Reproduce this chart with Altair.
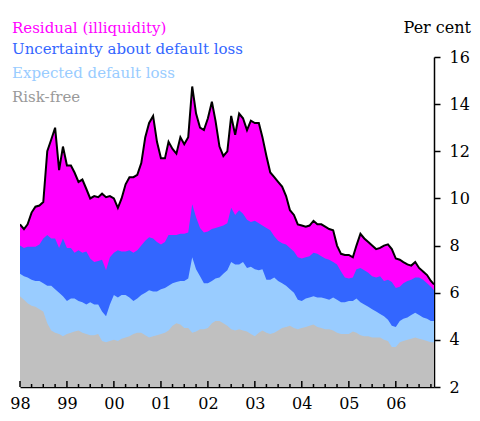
import altair as alt
import pandas as pd

# ---- data (levels, per cent) ----
months = list(pd.date_range("1998-01-01", periods=106, freq="MS")) + [pd.Timestamp("2006-10-25")]

residual_top = [
    8.9, 8.7, 8.9, 9.4, 9.65, 9.7, 9.85, 12.0, 12.5, 13.0,
    11.2, 12.2, 11.4, 11.4, 11.1, 10.7, 10.8, 10.4, 10.0, 10.1,
    10.05, 10.2, 10.05, 10.1, 10.0, 9.6, 10.0, 10.6, 10.9, 10.9,
    11.0, 11.5, 12.6, 13.2, 13.5, 12.4, 11.7, 11.7, 12.4, 12.1,
    11.9, 12.6, 12.3, 12.6, 14.75, 13.6, 13.0, 12.9, 13.4, 14.1,
    13.3, 12.2, 11.8, 12.0, 13.5, 12.7, 13.6, 13.4, 12.9, 13.3,
    13.2, 13.2, 12.6, 11.8, 11.1, 10.9, 10.7, 10.5, 10.1, 9.5,
    9.3, 8.9, 8.85, 8.8, 8.85, 9.05, 8.9, 8.9, 8.8, 8.7,
    8.65, 8.0, 7.65, 7.6, 7.6, 7.5, 8.0, 8.5, 8.3, 8.15,
    8.0, 7.85, 7.9, 8.0, 8.05, 7.85, 7.45, 7.4, 7.3, 7.2,
    7.15, 7.3, 7.05, 6.9, 6.75, 6.5, 6.35,
]
uncertainty_top = [
    8.0, 7.9, 7.95, 7.95, 7.95, 8.05, 8.3, 8.45, 8.3, 8.3,
    7.9, 8.3, 7.9, 7.9, 7.7, 7.8, 7.7, 7.75, 7.45, 7.3,
    7.35, 7.4, 6.95, 7.5, 7.7, 7.8, 7.75, 7.75, 7.8, 7.7,
    7.8, 8.0, 8.2, 8.35, 8.3, 8.15, 8.05, 8.15, 8.45, 8.45,
    8.45, 8.5, 8.5, 8.55, 9.75, 9.2, 8.75, 8.55, 8.6, 8.7,
    8.75, 8.8, 8.85, 8.95, 9.6, 9.3, 9.5, 9.35, 9.1, 9.0,
    9.05, 8.95, 8.85, 8.75, 8.65, 8.4, 8.2, 8.1, 8.05, 7.9,
    7.75, 7.5, 7.45, 7.5, 7.55, 7.7, 7.65, 7.55, 7.45, 7.4,
    7.3, 7.2, 6.9, 6.65, 6.6, 6.65, 7.0, 7.05, 6.95, 6.85,
    6.7, 6.65, 6.7, 6.5, 6.55, 6.45, 6.2, 6.25, 6.4, 6.5,
    6.55, 6.65, 6.65, 6.55, 6.4, 6.25, 6.1,
]
expected_loss_top = [
    6.8, 6.7, 6.65, 6.55, 6.5, 6.5, 6.4, 6.3, 6.3, 6.15,
    6.0, 5.85, 5.65, 5.75, 5.75, 5.65, 5.6, 5.5, 5.6, 5.5,
    5.5, 5.2, 5.0, 5.5, 5.9, 5.8, 5.9, 5.9, 5.8, 5.65,
    5.75, 5.9, 6.0, 6.1, 6.05, 6.05, 6.15, 6.2, 6.3, 6.4,
    6.45, 6.5, 6.5, 6.6, 7.5, 7.0, 6.7, 6.4, 6.4, 6.5,
    6.6, 6.65, 6.8, 6.95, 7.3, 7.2, 7.2, 7.3, 7.05, 7.1,
    7.0, 6.95, 7.0, 6.55, 6.55, 6.65, 6.5, 6.4, 6.3, 6.15,
    6.0, 5.7, 5.65, 5.75, 5.8, 5.85, 5.8, 5.8, 5.75, 5.7,
    5.8, 5.7, 5.6, 5.6, 5.65, 5.65, 5.75, 5.6, 5.5, 5.4,
    5.3, 5.2, 5.1, 5.0, 4.85, 4.6, 4.55, 4.8, 4.9, 4.95,
    5.05, 5.15, 5.05, 4.95, 4.9, 4.8, 4.8,
]
risk_free = [
    5.85, 5.7, 5.55, 5.45, 5.4, 5.3, 5.2, 4.7, 4.4, 4.3,
    4.25, 4.15, 4.25, 4.3, 4.35, 4.4, 4.3, 4.25, 4.2, 4.2,
    4.25, 3.95, 3.9, 3.95, 4.0, 3.95, 4.05, 4.1, 4.15, 4.25,
    4.3, 4.3, 4.2, 4.1, 4.15, 4.2, 4.25, 4.3, 4.4, 4.6,
    4.7, 4.65, 4.5, 4.5, 4.3, 4.35, 4.45, 4.45, 4.5, 4.7,
    4.8, 4.8, 4.7, 4.6, 4.45, 4.4, 4.45, 4.4, 4.35, 4.25,
    4.15, 4.3, 4.4, 4.3, 4.25, 4.3, 4.4, 4.5, 4.55, 4.6,
    4.5, 4.45, 4.5, 4.55, 4.6, 4.65, 4.55, 4.5, 4.45, 4.45,
    4.4, 4.3, 4.25, 4.25, 4.25, 4.35, 4.3, 4.2, 4.15, 4.15,
    4.1, 4.1, 4.1, 4.0, 3.95, 3.7, 3.7, 3.9, 3.95, 4.0,
    4.05, 4.1, 4.05, 4.0, 3.95, 3.9, 3.9,
]

legend_labels = ["Residual (illiquidity)", "Uncertainty about default loss",
                 "Expected default loss", "Risk-free"]
legend_colors = ["#FF00FF", "#3366FF", "#99CCFF", "#999999"]
area_colors = ["#FF00FF", "#3366FF", "#99CCFF", "#C0C0C0"]
year_ticks = [1998, 1999, 2000, 2001, 2002, 2003, 2004, 2005, 2006]
y_ticks = [2, 4, 6, 8, 10, 12, 14, 16]

df = pd.DataFrame({
    "date": months,
    "total": residual_top,
    "unc": uncertainty_top,
    "edl": expected_loss_top,
    "rf": risk_free,
})
quarters = pd.DataFrame({"date": pd.date_range("1998-01-01", "2006-10-01", freq="QS")})
quarters["major"] = quarters["date"].dt.month == 1

W, H = 414, 330
FONT = "DejaVu Serif"

x_scale = alt.Scale(domain=[alt.DateTime(year=1998, month=1, date=1),
                            alt.DateTime(year=2006, month=10, date=25)])
y_scale = alt.Scale(domain=[2, 16], nice=False, zero=False)

x_axis = alt.Axis(
    title=None, format="%y", values=[alt.DateTime(year=y, month=1, date=1) for y in year_ticks],
    ticks=False, grid=False, domainColor="black", domainWidth=1.5,
    labelFont=FONT, labelFontSize=16, labelColor="black", labelPadding=8,
    labelFlush=False, labelOverlap=False, labelBound=False,
)
y_axis = alt.Axis(
    title=None, orient="right", values=y_ticks, grid=False,
    domainColor="black", domainWidth=1.5, tickColor="black", tickSize=6, tickWidth=1.5,
    labelFont=FONT, labelFontSize=16, labelColor="black", labelPadding=9,
)

X = alt.X("date:T", scale=x_scale, axis=x_axis)

base = alt.Chart(df)

def band(field, color):
    return base.mark_area(color=color, opacity=1, interpolate="linear", clip=True).encode(
        x=X, y=alt.Y(f"{field}:Q", scale=y_scale, axis=y_axis), y2=alt.datum(2)
    )

areas = [band("total", area_colors[0]), band("unc", area_colors[1]),
         band("edl", area_colors[2]), band("rf", area_colors[3])]

line = base.mark_line(color="black", strokeWidth=2, clip=True).encode(
    x=X, y=alt.Y("total:Q", scale=y_scale, axis=y_axis)
)

major_ticks = alt.Chart(quarters[quarters["major"]]).mark_rule(color="black", strokeWidth=1.5).encode(
    x=X, y=alt.value(H), y2=alt.value(H - 6)
)
minor_ticks = alt.Chart(quarters[~quarters["major"]]).mark_rule(color="black", strokeWidth=1.5).encode(
    x=X, y=alt.value(H), y2=alt.value(H - 3)
)

legend_y = [-24, -3, 21, 45]
texts = []
for lab, col, yy in zip(legend_labels, legend_colors, legend_y):
    texts.append(
        alt.Chart(pd.DataFrame({"t": [lab]})).mark_text(
            align="left", baseline="alphabetic", font=FONT, fontSize=15, color=col
        ).encode(text="t:N", x=alt.value(-8), y=alt.value(yy))
    )

unit = alt.Chart(pd.DataFrame({"t": ["Per cent"]})).mark_text(
    align="right", baseline="alphabetic", font=FONT, fontSize=16, color="black"
).encode(text="t:N", x=alt.value(451), y=alt.value(-24))

chart = alt.layer(*areas, line, major_ticks, minor_ticks, *texts, unit).properties(
    width=W, height=H,
    padding={"left": 12, "top": 49, "right": 38, "bottom": 26},
    autosize=alt.AutoSizeParams(type="none"),
).configure_view(stroke=None)

chart.save("out.html", embed_options={"renderer": "svg", "actions": False})
